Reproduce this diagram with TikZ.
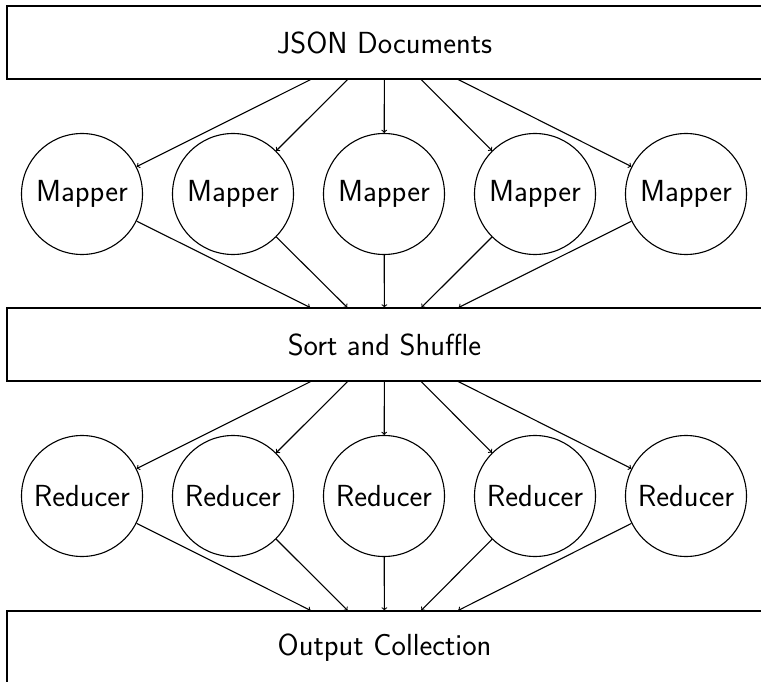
\documentclass[tikz,border=0pt]{standalone}
\usetikzlibrary{positioning}
\begin{document}
\begin{tikzpicture}[x=1pt,y=-1pt,line width=1.1pt,
  every node/.style={font=\fontsize{30.5}{35}\sffamily},
  wide/.style={draw,rectangle,minimum width=755pt,minimum height=73pt,inner sep=0pt},
  worker/.style={draw,circle,minimum size=121pt,inner sep=0pt},
  flow/.style={->}]
\useasboundingbox (0,0) rectangle (761,682);
\clip (0,0) rectangle (761,682);
\node[wide] (docs) at (384.5,42.5) {JSON Documents};
\node[wide] (sort) at (384.5,344.5) {Sort and Shuffle};
\node[wide] (out) at (384.5,647.5) {Output Collection};
\foreach \i/\x in {1/82,2/233,3/384,4/535,5/686}{
  \node[worker] (m\i) at (\x,194) {Mapper};
  \node[worker] (r\i) at (\x,496) {Reducer};
  \draw[flow] (docs) -- (m\i);
  \draw[flow] (m\i) -- (sort);
  \draw[flow] (sort) -- (r\i);
  \draw[flow] (r\i) -- (out);
}
\end{tikzpicture}
\end{document}
